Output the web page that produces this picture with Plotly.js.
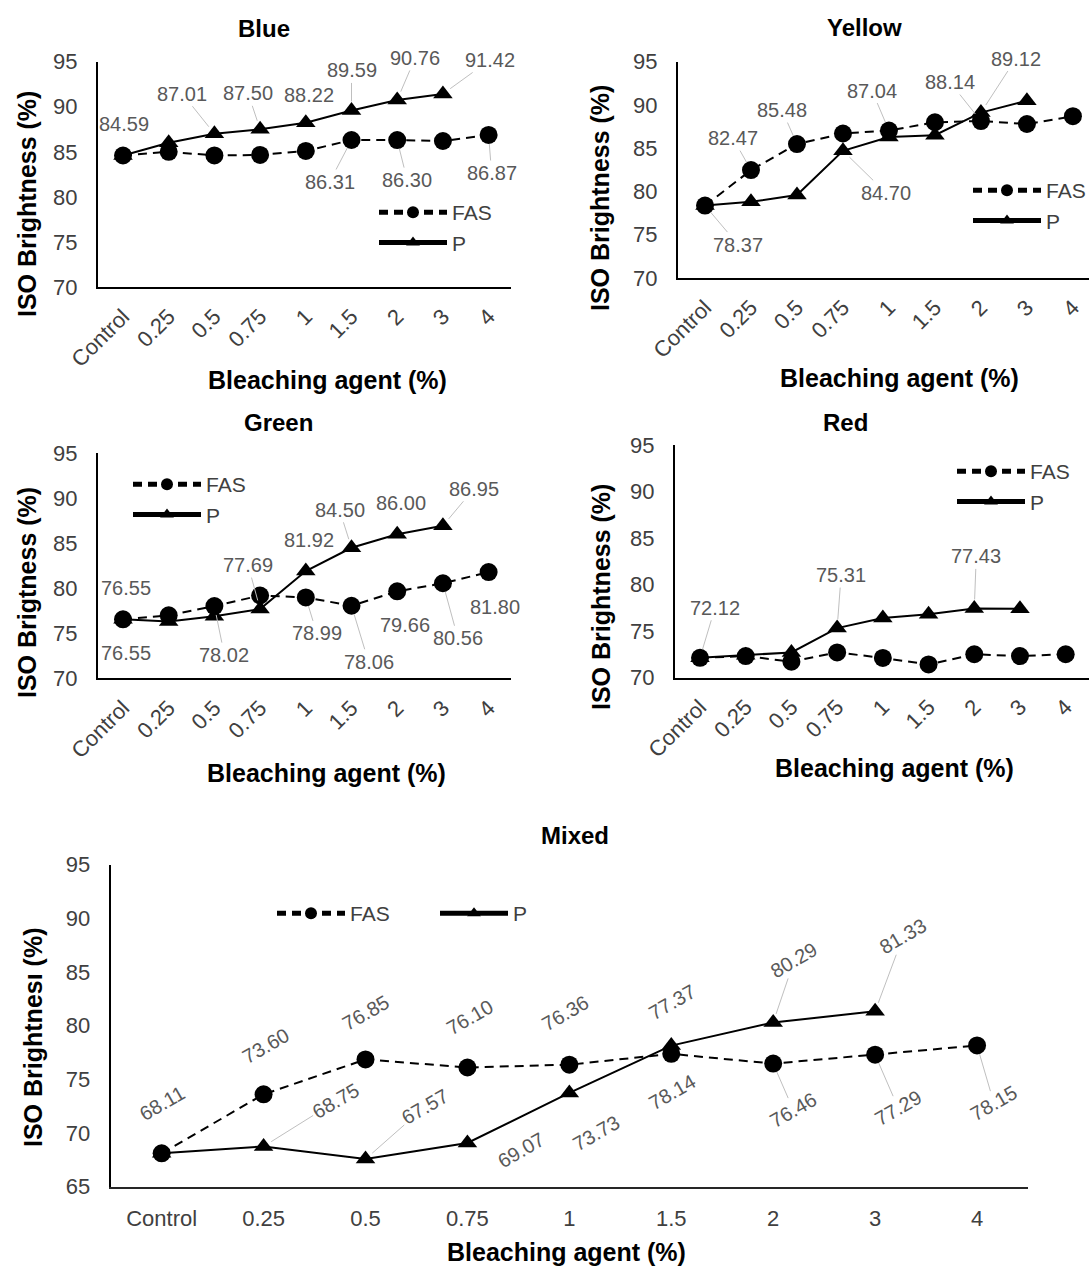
<!DOCTYPE html>
<html><head><meta charset="utf-8">
<script src="https://cdn.plot.ly/plotly-3.0.1.min.js"></script>
<style>html,body{margin:0;padding:0;background:#fff;overflow:hidden}</style>
</head><body><div id="chart" style="width:1089px;height:1270px"></div>
<script>
// ---------- data ----------
const categories = ['Control','0.25','0.5','0.75','1','1.5','2','3','4'];

const blueFAS   = [84.59, 85.0, 84.6, 84.65, 85.1, 86.31, 86.30, 86.2, 86.87];
const blueP     = [84.59, 86.0, 87.01, 87.50, 88.22, 89.59, 90.76, 91.42, null];
const yellowFAS = [78.37, 82.47, 85.48, 86.7, 87.04, 88.0, 88.14, 87.8, 88.7];
const yellowP   = [78.37, 78.8, 79.6, 84.70, 86.3, 86.5, 89.12, 90.5, null];
const greenFAS  = [76.55, 77.0, 78.02, 79.2, 78.99, 78.06, 79.66, 80.56, 81.80];
const greenP    = [76.55, 76.3, 76.9, 77.69, 81.92, 84.50, 86.00, 86.95, null];
const redFAS    = [72.12, 72.3, 71.7, 72.7, 72.1, 71.4, 72.5, 72.3, 72.5];
const redP      = [72.12, 72.4, 72.7, 75.31, 76.4, 76.8, 77.43, 77.4, null];
const mixedFAS  = [68.11, 73.60, 76.85, 76.10, 76.36, 77.37, 76.46, 77.29, 78.15];
const mixedP    = [68.11, 68.75, 67.57, 69.07, 73.73, 78.14, 80.29, 81.33, null];

const seriesNames = ['FAS', 'P'];

// data-label placement: [series, category index, dx px, dy px, leader line]
const blueLabels = [['P',0,1,-32,0],['P',2,-32,-40,1],['P',3,-12,-36,1],['P',4,3,-28,0],['P',5,0,-40,1],
  ['P',6,18,-42,1],['P',7,47,-34,1],['F',5,-22,42,1],['F',6,10,40,1],['F',8,3,38,1]];
const yellowLabels = [['F',0,33,39,1],['F',1,-18,-32,1],['F',2,-15,-34,1],['F',4,-17,-40,1],['F',6,-31,-39,1],
  ['P',6,35,-54,1],['P',3,43,42,1]];
const greenLabels = [['F',0,3,-31,0],['P',0,3,34,0],['P',3,-12,-44,1],['F',2,10,49,1],['P',4,3,-31,0],
  ['P',5,-12,-38,1],['P',6,4,-31,0],['P',7,31,-37,1],['F',4,11,36,1],['F',5,17,56,1],['F',6,8,34,0],
  ['F',7,15,55,1],['F',8,6,35,0]];
const redLabels = [['F',0,15,-50,1],['P',3,4,-53,1],['P',6,2,-52,1]];
const mixedLabels = [['F',0,1,-50,0],['F',1,2,-48,0],['F',2,0,-46,0],['F',3,3,-50,0],['F',4,-4,-52,0],
  ['F',5,1,-52,0],['P',6,21,-62,1],['P',7,28,-75,1],['P',1,72,-45,1],['P',2,59,-52,1],['P',3,54,7,0],
  ['P',4,27,40,0],['P',5,1,46,0],['F',6,20,46,1],['F',7,23,53,1],['F',8,17,58,1]];

// ---------- layout helpers ----------
const W = 1089, H = 1270;
const px = v => v / W;
const py = v => 1 - v / H;
const FONT = 'Liberation Sans, Arial, sans-serif';

const panels = [
  {name:'Blue', fas:blueFAS, p:blueP, labels:blueLabels, s:'', xPix:[98,511], yPix:[287,61.7],
   xr:[-0.547,8.49], yr:[70,95], angle:-45, labelAngle:0, title:[264,28], xt:[327,380], yt:[27,204],
   ytext:'ISO Brightness (%)', leg:{x:374,y:192,o:'v'}},
  {name:'Yellow', fas:yellowFAS, p:yellowP, labels:yellowLabels, s:'2', xPix:[678,1089], yPix:[278,61.7],
   xr:[-0.587,8.35], yr:[70,95], angle:-45, labelAngle:0, title:[864,27], xt:[899,378], yt:[600,198],
   ytext:'ISO Brightness (%)', leg:{x:968,y:170,o:'v'}},
  {name:'Green', fas:greenFAS, p:greenP, labels:greenLabels, s:'3', xPix:[98,511], yPix:[678.3,453.3],
   xr:[-0.547,8.49], yr:[70,95], angle:-45, labelAngle:0, title:[278,422], xt:[326,773], yt:[27,593],
   ytext:'ISO Brigtness (%)', leg:{x:128,y:464,o:'v'}},
  {name:'Red', fas:redFAS, p:redP, labels:redLabels, s:'4', xPix:[675,1089], yPix:[677.5,445],
   xr:[-0.547,8.51], yr:[70,95], angle:-45, labelAngle:0, title:[845,422], xt:[894,768], yt:[601,597],
   ytext:'ISO Brightness (%)', leg:{x:952,y:451,o:'v'}},
  {name:'Mixed', fas:mixedFAS, p:mixedP, labels:mixedLabels, s:'5', xPix:[110.7,1028], yPix:[1186.7,864.5],
   xr:[-0.5,8.5], yr:[65,95], angle:0, labelAngle:-30, title:[575,835], xt:[566,1252], yt:[33,1038],
   ytext:'ISO Brightnesı (%)', leg:{x:272,y:893,o:'h'}}
];

const traces = [];
const annotations = [];
const layout = {
  width: W, height: H,
  margin: {l:0, r:0, t:0, b:0, autoexpand:false},
  paper_bgcolor: '#fff', plot_bgcolor: 'rgba(0,0,0,0)',
  font: {family: FONT, color: '#404040'},
  showlegend: true
};

panels.forEach((pn, k) => {
  const xa = 'x' + pn.s, ya = 'y' + pn.s;
  const legName = k === 0 ? 'legend' : 'legend' + (k + 1);
  [[pn.fas, 0], [pn.p, 1]].forEach(([vals, j]) => {
    traces.push({
      type: 'scatter', mode: 'lines+markers',
      x: categories, y: vals, xaxis: xa, yaxis: ya,
      name: seriesNames[j], legend: legName, legendgroup: pn.name + seriesNames[j],
      line: {color: '#000', width: 2, dash: j === 0 ? '9px,6px' : 'solid'},
      marker: {symbol: j === 0 ? 'circle' : 'triangle-up', size: j === 0 ? 18 : 17, color: '#000'},
      cliponaxis: false, hoverinfo: 'x+y'
    });
  });
  layout['xaxis' + pn.s] = {
    domain: [px(pn.xPix[0]), px(pn.xPix[1])], anchor: ya, type: 'category',
    categoryorder: 'array', categoryarray: categories, range: pn.xr,
    showline: true, linecolor: pn.name === 'Mixed' ? '#262626' : '#000', linewidth: pn.name === 'Mixed' ? 2.5 : 2,
    showgrid: false, zeroline: false, ticks: '', tickangle: pn.angle,
    ticklabelstandoff: pn.name === 'Mixed' ? 10 : 6,
    tickfont: {size: 22, color: '#404040', family: FONT}
  };
  layout['yaxis' + pn.s] = {
    domain: [py(pn.yPix[0]), py(pn.yPix[1])], anchor: xa, range: pn.yr,
    tick0: pn.yr[0], dtick: 5, showline: true, linecolor: '#000', linewidth: 2,
    showgrid: false, zeroline: false, ticks: '', ticklabelstandoff: 14,
    tickfont: {size: 22, color: '#404040', family: FONT}
  };
  const leg = {
    x: px(pn.leg.x), y: py(pn.leg.y), xanchor: 'left', yanchor: 'top',
    orientation: pn.leg.o, bgcolor: 'rgba(0,0,0,0)', borderwidth: 0,
    font: {size: 21, color: '#404040', family: FONT},
    itemwidth: 68, itemsizing: 'constant', tracegroupgap: pn.leg.o === 'v' ? 12 : 0,
    traceorder: 'normal'
  };
  if (pn.leg.o === 'h') { leg.entrywidth = 80; leg.entrywidthmode = 'pixels'; }
  layout[legName] = leg;
  // titles
  annotations.push({xref:'paper', yref:'paper', x:px(pn.title[0]), y:py(pn.title[1]), text:pn.name,
    showarrow:false, xanchor:'center', yanchor:'middle', font:{size:24, color:'#000', weight:'bold', family:FONT}});
  annotations.push({xref:'paper', yref:'paper', x:px(pn.xt[0]), y:py(pn.xt[1]), text:'Bleaching agent (%)',
    showarrow:false, xanchor:'center', yanchor:'middle', font:{size:25, color:'#000', weight:'bold', family:FONT}});
  annotations.push({xref:'paper', yref:'paper', x:px(pn.yt[0]), y:py(pn.yt[1]), text:pn.ytext, textangle:-90,
    showarrow:false, xanchor:'center', yanchor:'middle', font:{size:25, color:'#000', weight:'bold', family:FONT}});
  // data labels (x given as category index so that '1','2','3','4' are not misread)
  pn.labels.forEach(([ser, i, dx, dy, lead]) => {
    const vals = ser === 'F' ? pn.fas : pn.p;
    annotations.push({
      xref: xa, yref: ya, x: i, y: vals[i], text: vals[i].toFixed(2),
      showarrow: true, ax: dx, ay: dy, arrowhead: 0, arrowwidth: 1,
      arrowcolor: lead ? '#bfbfbf' : 'rgba(0,0,0,0)', standoff: 9,
      textangle: pn.labelAngle,
      font: {size: 20, color: '#595959', family: FONT}
    });
  });
});
layout.annotations = annotations;

Plotly.newPlot('chart', traces, layout, {staticPlot: true, displayModeBar: false});
</script>
</body></html>
